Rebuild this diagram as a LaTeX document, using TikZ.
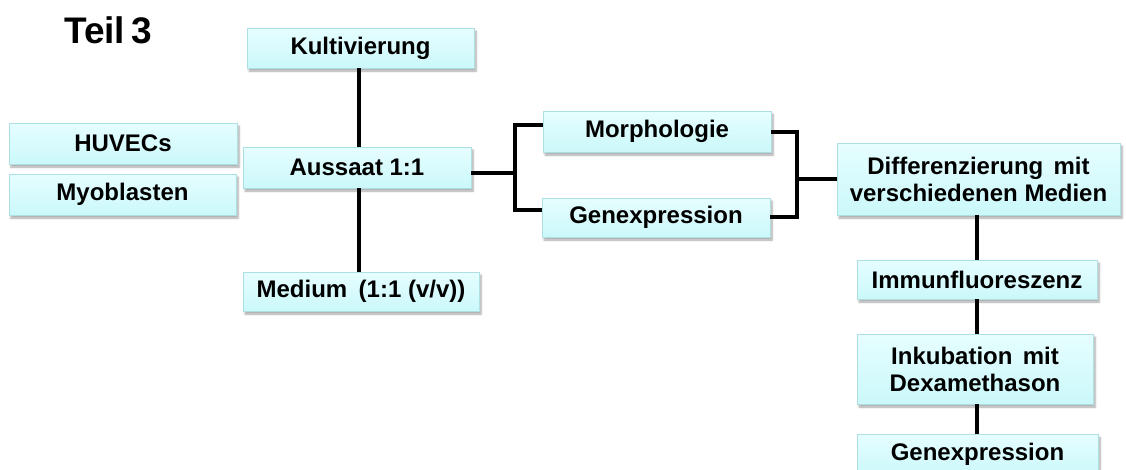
\documentclass[tikz,border=0pt]{standalone}
\usepackage{fontspec}
\setmainfont{Liberation Sans}
\usetikzlibrary{shadows.blur}
\definecolor{boxtop}{HTML}{E6FEFF}
\definecolor{boxbot}{HTML}{CBF8FA}
\definecolor{boxline}{HTML}{AEDFE2}
\tikzset{
  stepbox/.style={draw=boxline, line width=0.8pt, top color=boxtop, bottom color=boxbot,
    inner sep=0pt, align=center, font=\fontsize{24}{27}\selectfont\bfseries,
    blur shadow={shadow xshift=2pt, shadow yshift=-3pt, shadow blur steps=6, shadow opacity=35}},
  link/.style={line width=4pt, black}
}
\begin{document}
\begin{tikzpicture}[x=1pt,y=-1pt]
\useasboundingbox (0,0) rectangle (1126,469);
\node[font=\fontsize{37}{40}\selectfont\bfseries] (title) at (108,30) {Teil\,3};

\node[stepbox, minimum width=227pt, minimum height=40pt] (kult) at (360.5,48) {Kultivierung};
\node[stepbox, minimum width=228pt, minimum height=41pt] (huv) at (123,143.5) {HUVECs};
\node[stepbox, minimum width=227pt, minimum height=41pt] (myo) at (122.5,194.5) {Myoblasten};
\node[stepbox, minimum width=228pt, minimum height=41pt] (aus) at (357,167.5) {Aussaat 1:1};
\node[stepbox, minimum width=236pt, minimum height=39pt] (med) at (361,291.5) {Medium\hspace{0.2em} (1:1 (v/v))};
\node[stepbox, minimum width=228pt, minimum height=41pt] (morph) at (657,131.5) {Morphologie};
\node[stepbox, minimum width=228pt, minimum height=39pt] (genA) at (656,217.5) {Genexpression};
\node[stepbox, minimum width=283pt, minimum height=72pt] (diff) at (978.5,179) {Differenzierung\hspace{0.15em} mit\\verschiedenen Medien};
\node[stepbox, minimum width=240pt, minimum height=39pt] (imm) at (977,279.5) {Immunfluoreszenz};
\node[stepbox, minimum width=236pt, minimum height=70pt] (ink) at (975,369) {Inkubation\hspace{0.15em} mit\\Dexamethason};
\node[stepbox, minimum width=241pt, minimum height=40pt, anchor=north] (genB) at (977.5,434) {Genexpression};

% vertical chain through the seeding step
\draw[link] (kult.south -| 359,0) -- (aus.north -| 359,0);
\draw[link] (aus.south -| 359,0) -- (med.north -| 359,0);

% fork to the two read-outs
\coordinate (forkL) at (515,173);
\coordinate (mIn) at ([yshift=6.5pt]morph.west);
\coordinate (gIn) at ([yshift=7.5pt]genA.west);
\draw[link] ([yshift=-5.5pt]aus.east) -- (forkL);
\draw[link] (mIn) -- (mIn -| forkL) -- (gIn -| forkL) -- (gIn);

% join into differentiation
\coordinate (forkR) at (797,179);
\coordinate (mOut) at ([yshift=-0.5pt]morph.east);
\coordinate (gOut) at ([yshift=0.5pt]genA.east);
\draw[link] (mOut) -- (mOut -| forkR) -- (gOut -| forkR) -- (gOut);
\draw[link] (forkR) -- (diff.west);

% chain below differentiation
\draw[link] (diff.south -| 977,0) -- (imm.north -| 977,0);
\draw[link] (imm.south -| 977,0) -- (ink.north -| 977,0);
\draw[link] (ink.south -| 977,0) -- (genB.north -| 977,0);
\end{tikzpicture}
\end{document}
